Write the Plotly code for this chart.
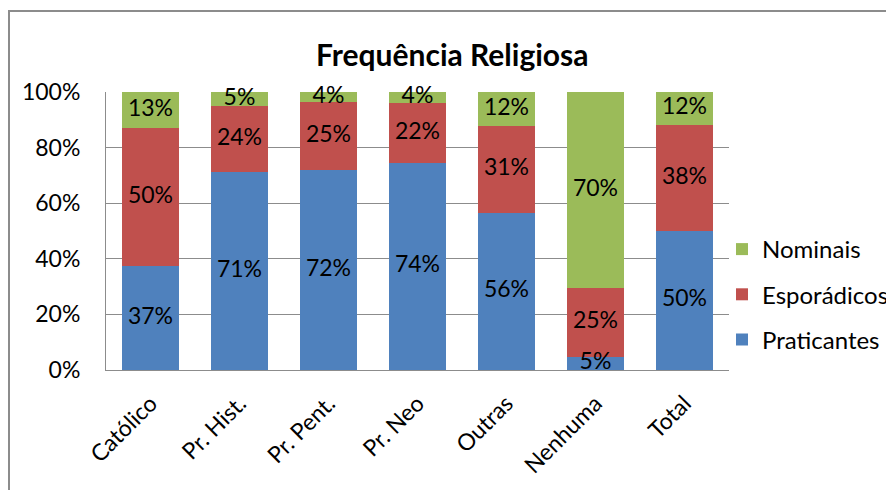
import plotly.graph_objects as go

categories = ["Católico", "Pr. Hist.", "Pr. Pent.", "Pr. Neo", "Outras", "Nenhuma", "Total"]
praticantes = [37.4, 71.1, 71.9, 74.4, 56.4, 4.8, 50.0]
esporadicos = [49.8, 24.0, 24.6, 21.6, 31.3, 24.8, 38.2]
nominais = [12.8, 4.9, 3.5, 4.0, 12.3, 70.4, 11.8]
y_ticks = [0, 20, 40, 60, 80, 100]
y_tick_labels = ["0%", "20%", "40%", "60%", "80%", "100%"]

series = [
    ("Praticantes", praticantes, "#4F81BD", 3),
    ("Esporádicos", esporadicos, "#C0504D", 2),
    ("Nominais", nominais, "#9BBB59", 1),
]

FONT = "Lato"
OFF = 8  # page body margin
W, H = 886, 482
ML, MR, MT, MB = 98, 165, 84, 120
PW, PH = W - ML - MR, H - MT - MB


def px_x(px):
    return (px - OFF - ML) / PW


def px_y(py):
    return (H - MB - (py - OFF)) / PH


fig = go.Figure()
base = [0.0] * len(categories)
mids_x, mids_y, mids_t = [], [], []
for name, vals, col, rank in series:
    fig.add_trace(go.Bar(
        x=categories, y=vals, name=name, marker=dict(color=col, line=dict(width=0)),
        legendgroup=name, legendrank=rank, hoverinfo="skip",
    ))
    for j, v in enumerate(vals):
        mids_x.append(categories[j])
        mids_y.append(base[j] + v / 2)
        mids_t.append(f"{round(v)}%")
        base[j] += v

fig.add_trace(go.Scatter(
    x=mids_x, y=mids_y, text=mids_t, mode="text", textposition="middle center",
    textfont=dict(family=FONT, size=23, color="black"), showlegend=False, hoverinfo="skip",
    cliponaxis=False,
))

fig.update_layout(
    width=W, height=H,
    margin=dict(l=ML, r=MR, t=MT, b=MB, autoexpand=False),
    barmode="stack", bargap=0.35,
    paper_bgcolor="white", plot_bgcolor="white",
    font=dict(family=FONT, size=23, color="black"),
    showlegend=True,
    legend=dict(
        x=px_x(722), y=px_y(227), xanchor="left", yanchor="top",
        traceorder="grouped", tracegroupgap=11,
        font=dict(family=FONT, size=24, color="black"),
        bgcolor="rgba(0,0,0,0)", itemwidth=30,
    ),
    annotations=[dict(
        text="<b>Frequência Religiosa</b>", x=px_x(452), y=px_y(54),
        xref="paper", yref="paper", xanchor="center", yanchor="middle",
        showarrow=False, font=dict(family=FONT, size=30, color="black"),
    )],
    shapes=[
        dict(type="path", xref="paper", yref="paper",
             path=f"M {px_x(9)} {px_y(700)} L {px_x(9)} {px_y(11)} L {px_x(1100)} {px_y(11)}",
             line=dict(color="#8C8C8C", width=2)),
    ],
)

fig.update_yaxes(
    range=[0, 100], tickvals=y_ticks, ticktext=y_tick_labels,
    showgrid=True, gridcolor="#8C8C8C", gridwidth=1,
    showline=True, linecolor="#8C8C8C", linewidth=1,
    zeroline=False, ticks="", ticklabelstandoff=20,
    tickfont=dict(family=FONT, size=23, color="black"),
)
fig.update_xaxes(
    tickangle=-45, showline=True, linecolor="#8C8C8C", linewidth=1,
    showgrid=False, ticks="", ticklabelstandoff=10,
    tickfont=dict(family=FONT, size=23, color="black"),
)

fig.write_html("out.html")
